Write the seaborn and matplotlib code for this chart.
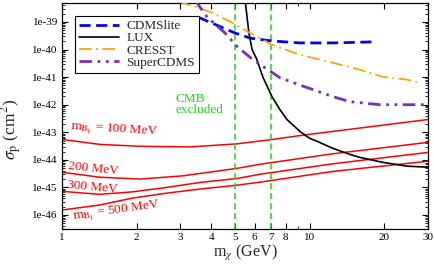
import numpy as np
import pandas as pd
import matplotlib
matplotlib.use("Agg")
import matplotlib.pyplot as plt
from matplotlib.ticker import FixedLocator, NullFormatter, LogLocator
import seaborn as sns

# ---------------- data ----------------
cdmslite_x = [3.54, 4.99, 5.74, 7.04, 9.13, 12.4, 18.0]
cdmslite_y = [1.5e-39, 4.0e-40, 2.6e-40, 2.05e-40, 1.74e-40, 1.74e-40, 1.9e-40]

lux_x = [5.48, 5.68, 5.85, 6.12, 6.47, 7.04, 7.58, 8.09, 9.13, 10.0, 10.7, 12.4,
         14.5, 15.9, 19.7, 24.7, 30.0]
lux_y = [6.3e-39, 4.0e-40, 1.0e-40, 4.3e-41, 1.0e-41, 1.95e-42, 6.6e-43, 2.9e-43,
         1.07e-43, 6.0e-44, 4.7e-44, 2.6e-44, 1.58e-44, 1.23e-44, 8.1e-45, 5.9e-45, 5.4e-45]

cresst_x = [2.95, 3.60, 4.07, 4.90, 5.74, 7.04, 9.13, 12.4, 15.9, 19.7, 24.7, 27.8]
cresst_y = [5.5e-39, 3.2e-39, 2.1e-39, 9.1e-40, 4.0e-40, 1.48e-40, 6.5e-41,
            3.3e-41, 1.86e-41, 1.02e-41, 8.1e-42, 6.3e-42]

supercdms_x = [3.45, 3.60, 3.85, 4.55, 5.10, 5.90, 7.58, 9.74, 12.4, 14.5, 19.2, 30.0]
supercdms_y = [6.3e-39, 3.5e-39, 1.5e-39, 4.0e-40, 1.26e-40, 4.3e-41, 9.5e-42,
               4.2e-42, 1.95e-42, 1.29e-42, 1.0e-42, 1.0e-42]

b100_x = [1.0, 1.42, 2.06, 3.3, 5.08, 7.10, 9.13, 15.5, 30.0]
b100_y = [5.5e-44, 3.63e-44, 3.1e-44, 2.95e-44, 3.8e-44, 5.5e-44, 7.6e-44, 1.38e-43, 2.9e-43]

b200_x = [1.0, 1.42, 2.06, 3.08, 5.08, 6.30, 12.4, 30.0]
b200_y = [3.55e-45, 2.34e-45, 2.0e-45, 2.63e-45, 4.9e-45, 6.9e-45, 1.66e-44, 4.3e-44]

b300_x = [1.0, 1.42, 1.93, 2.65, 3.60, 5.08, 6.30, 12.4, 30.0]
b300_y = [7.2e-46, 5.6e-46, 6.9e-46, 1.0e-45, 1.51e-45, 2.1e-45, 3.0e-45, 7.2e-45, 1.86e-44]

b500_x = [1.0, 1.42, 1.93, 2.65, 3.60, 5.08, 6.30, 12.4, 30.0]
b500_y = [1.51e-46, 2.3e-46, 4.1e-46, 6.2e-46, 8.7e-46, 1.2e-45, 1.55e-45, 3.8e-45, 8.9e-45]

cmb_bounds = [5, 7]

x_ticks = [1, 2, 3, 4, 5, 6, 7, 8, 10, 20, 30]
x_minor = [9]
y_ticks = [1e-46, 1e-45, 1e-44, 1e-43, 1e-42, 1e-41, 1e-40, 1e-39]
y_ticklabels = ["1e-46", "1e-45", "1e-44", "1e-43", "1e-42", "1e-41", "1e-40", "1e-39"]

# ---------------- style ----------------
sns.set_theme(style="ticks")
plt.rcParams["font.family"] = ["Liberation Serif", "DejaVu Serif"]
plt.rcParams["mathtext.fontset"] = "stix"

fig = plt.figure(figsize=(4.35, 2.67), dpi=100)
ax = fig.add_axes([62 / 435, 1 - 229.3 / 267, 366 / 435, 226.6 / 267])

RED = "#ff0000"
GREEN = "#11dd11"

# red model curves
for xs, ys in [(b100_x, b100_y), (b200_x, b200_y), (b300_x, b300_y), (b500_x, b500_y)]:
    sns.lineplot(x=xs, y=ys, ax=ax, color=RED, lw=1.1, sort=False, zorder=2)

# CMB exclusion bounds
for xb in cmb_bounds:
    ax.axvline(xb, color=GREEN, lw=1.1, linestyle=(0, (4, 2.5)), zorder=2)

h_cdms = sns.lineplot(x=cdmslite_x, y=cdmslite_y, ax=ax, color="#0000ff", lw=2.0,
                      linestyle=(0, (4, 2)), sort=False, zorder=3).lines[-1]
h_lux = sns.lineplot(x=lux_x, y=lux_y, ax=ax, color="black", lw=1.2,
                     sort=False, zorder=3).lines[-1]
h_cresst = sns.lineplot(x=cresst_x, y=cresst_y, ax=ax, color="#ffa500", lw=1.3,
                        linestyle=(0, (7, 2.5, 1, 2.5)), sort=False, zorder=3).lines[-1]
h_super = sns.lineplot(x=supercdms_x, y=supercdms_y, ax=ax, color="#7b2fbe", lw=2.0,
                       linestyle=(0, (4.5, 2, 1, 2, 1, 2)), sort=False, zorder=3).lines[-1]

ax.set_xscale("log")
ax.set_yscale("log")
ax.set_xlim(1, 30)
ax.set_ylim(10 ** -46.52, 10 ** -38.30)

ax.xaxis.set_major_locator(FixedLocator(x_ticks))
ax.xaxis.set_minor_locator(FixedLocator(x_minor))
ax.set_xticklabels([str(t) for t in x_ticks])
ax.xaxis.set_minor_formatter(NullFormatter())
ax.yaxis.set_major_locator(FixedLocator(y_ticks))
ax.set_yticklabels(y_ticklabels)
ax.yaxis.set_minor_locator(LogLocator(base=10, subs=np.arange(2, 10), numticks=30))
ax.yaxis.set_minor_formatter(NullFormatter())

ax.tick_params(which="both", direction="in", top=True, right=True, colors="black",
               labelsize=8, pad=3)
ax.tick_params(which="major", length=4, width=0.8)
ax.tick_params(which="minor", length=2, width=0.6)
for s in ax.spines.values():
    s.set_color("black")
    s.set_linewidth(0.9)

ax.set_xlabel(r"m$_\chi$ (GeV)", fontsize=11.5)
ax.xaxis.set_label_coords(0.5, -0.06)
ax.set_ylabel(r"$\sigma_{\rm p}$ (cm$^2$)", fontsize=12.5)
ax.yaxis.set_label_coords(-0.103, 0.44)

# annotations
ax.text(2.86, 10 ** -41.78, "CMB", color=GREEN, fontsize=9.5, ha="left", va="center")
ax.text(2.86, 10 ** -42.18, "excluded", color=GREEN, fontsize=9.5, ha="left", va="center")

ax.text(1.62, 10 ** -42.94, r"m$_{\rm B_1}$ = 100 MeV", color=RED, fontsize=9.5,
        ha="center", va="center", rotation=-3.5, rotation_mode="anchor")
ax.text(1.334, 10 ** -44.32, "200 MeV", color=RED, fontsize=9.5,
        ha="center", va="center", rotation=-6, rotation_mode="anchor")
ax.text(1.32, 10 ** -44.99, "300 MeV", color=RED, fontsize=9.5,
        ha="center", va="center", rotation=-5, rotation_mode="anchor")
ax.text(1.66, 10 ** -45.86, r"m$_{\rm B_1}$ = 500 MeV", color=RED, fontsize=9.5,
        ha="center", va="center", rotation=8, rotation_mode="anchor")

leg = ax.legend([h_cdms, h_lux, h_cresst, h_super],
                ["CDMSlite", "LUX", "CRESST", "SuperCDMS"],
                loc="upper left", bbox_to_anchor=(0.0355, 0.941), borderaxespad=0,
                fontsize=9.5, handlelength=3.0, handletextpad=0.6, labelspacing=0.0,
                borderpad=0.3, frameon=True, fancybox=False, framealpha=1,
                edgecolor="black")
leg.get_frame().set_linewidth(0.8)
leg.set_zorder(5)

fig.savefig("out.png", dpi=100)
